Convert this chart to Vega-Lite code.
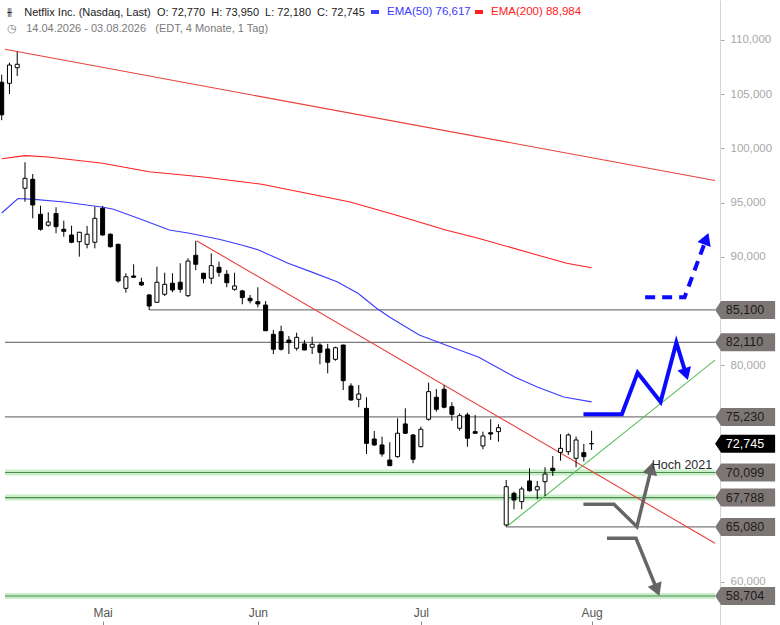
{
  "$schema": "https://vega.github.io/schema/vega-lite/v6.json",
  "width": 720,
  "height": 625,
  "autosize": {"type": "none"},
  "padding": {"left": 0, "top": 0, "right": 60, "bottom": 0},
  "title": {
    "text": "⫵\u00a0\u00a0\u00a0 Netflix Inc. (Nasdaq, Last)\u00a0 O: 72,770\u00a0 H: 73,950\u00a0 L: 72,180\u00a0 C: 72,745",
    "subtitle": "◷\u00a0\u00a0 14.04.2026 - 03.08.2026\u00a0\u00a0 (EDT, 4 Monate, 1 Tag)",
    "anchor": "start",
    "frame": "group",
    "orient": "top",
    "offset": -34,
    "dx": 7,
    "font": "Liberation Sans",
    "fontSize": 11,
    "fontWeight": "normal",
    "color": "#222222",
    "subtitleFont": "Liberation Sans",
    "subtitleFontSize": 11,
    "subtitleColor": "#7a7a7a",
    "subtitlePadding": 5
  },
  "datasets": {
    "candles": [
      {"i": 0, "o": 106.1, "h": 106.8, "l": 102.6, "c": 103.1},
      {"i": 1, "o": 106.0, "h": 107.91, "l": 105.02, "c": 107.69},
      {"i": 2, "o": 107.44, "h": 108.92, "l": 106.68, "c": 107.76},
      {"i": 3, "o": 96.32, "h": 98.72, "l": 95.08, "c": 97.24},
      {"i": 4, "o": 97.15, "h": 97.64, "l": 93.55, "c": 94.78},
      {"i": 5, "o": 93.92, "h": 94.71, "l": 92.41, "c": 92.54},
      {"i": 6, "o": 92.91, "h": 94.1, "l": 92.78, "c": 93.21},
      {"i": 7, "o": 93.99, "h": 94.57, "l": 92.17, "c": 92.78},
      {"i": 8, "o": 92.54, "h": 93.33, "l": 91.85, "c": 92.35},
      {"i": 9, "o": 92.01, "h": 92.87, "l": 91.25, "c": 91.34},
      {"i": 10, "o": 91.39, "h": 92.3, "l": 90.01, "c": 92.26},
      {"i": 11, "o": 91.15, "h": 92.84, "l": 90.78, "c": 92.08},
      {"i": 12, "o": 91.34, "h": 94.62, "l": 90.78, "c": 93.55},
      {"i": 13, "o": 94.47, "h": 94.69, "l": 91.95, "c": 92.01},
      {"i": 14, "o": 92.08, "h": 92.17, "l": 90.85, "c": 90.93},
      {"i": 15, "o": 91.15, "h": 91.2, "l": 87.61, "c": 87.77},
      {"i": 16, "o": 87.09, "h": 88.48, "l": 86.69, "c": 88.16},
      {"i": 17, "o": 88.23, "h": 89.31, "l": 88.08, "c": 88.11},
      {"i": 18, "o": 87.65, "h": 88.07, "l": 87.31, "c": 87.4},
      {"i": 19, "o": 86.48, "h": 86.52, "l": 85.1, "c": 85.46},
      {"i": 20, "o": 85.8, "h": 89.09, "l": 85.78, "c": 87.65},
      {"i": 21, "o": 86.54, "h": 88.53, "l": 86.38, "c": 87.46},
      {"i": 22, "o": 87.56, "h": 88.48, "l": 86.73, "c": 86.94},
      {"i": 23, "o": 87.65, "h": 89.4, "l": 86.69, "c": 87.0},
      {"i": 24, "o": 86.41, "h": 89.86, "l": 86.3, "c": 89.61},
      {"i": 25, "o": 90.14, "h": 91.46, "l": 88.76, "c": 89.31},
      {"i": 26, "o": 88.48, "h": 88.52, "l": 87.56, "c": 87.98},
      {"i": 27, "o": 88.02, "h": 90.32, "l": 87.49, "c": 89.18},
      {"i": 28, "o": 89.03, "h": 89.55, "l": 88.16, "c": 88.57},
      {"i": 29, "o": 88.39, "h": 88.78, "l": 87.19, "c": 87.61},
      {"i": 30, "o": 87.0, "h": 88.53, "l": 86.87, "c": 87.31},
      {"i": 31, "o": 86.85, "h": 86.95, "l": 85.62, "c": 86.23},
      {"i": 32, "o": 86.17, "h": 86.48, "l": 85.71, "c": 85.95},
      {"i": 33, "o": 85.86, "h": 87.19, "l": 85.34, "c": 85.65},
      {"i": 34, "o": 85.55, "h": 85.92, "l": 83.15, "c": 83.18},
      {"i": 35, "o": 82.85, "h": 83.25, "l": 81.03, "c": 81.47},
      {"i": 36, "o": 83.09, "h": 83.64, "l": 81.34, "c": 81.47},
      {"i": 37, "o": 82.32, "h": 82.69, "l": 81.03, "c": 82.08},
      {"i": 38, "o": 81.56, "h": 83.0, "l": 81.34, "c": 82.57},
      {"i": 39, "o": 81.96, "h": 82.32, "l": 81.38, "c": 81.4},
      {"i": 40, "o": 81.65, "h": 82.63, "l": 81.03, "c": 81.93},
      {"i": 41, "o": 81.86, "h": 82.02, "l": 80.08, "c": 81.19},
      {"i": 42, "o": 81.49, "h": 81.96, "l": 79.25, "c": 80.27},
      {"i": 43, "o": 80.54, "h": 81.71, "l": 80.41, "c": 81.61},
      {"i": 44, "o": 81.86, "h": 81.88, "l": 77.71, "c": 78.57},
      {"i": 45, "o": 78.08, "h": 78.33, "l": 76.73, "c": 76.79},
      {"i": 46, "o": 76.85, "h": 78.17, "l": 76.12, "c": 77.34},
      {"i": 47, "o": 76.02, "h": 77.04, "l": 71.81, "c": 72.79},
      {"i": 48, "o": 73.19, "h": 73.93, "l": 72.55, "c": 72.64},
      {"i": 49, "o": 72.64, "h": 73.41, "l": 71.56, "c": 71.81},
      {"i": 50, "o": 71.25, "h": 72.89, "l": 70.71, "c": 70.73},
      {"i": 51, "o": 71.56, "h": 75.1, "l": 71.47, "c": 73.72},
      {"i": 52, "o": 74.58, "h": 76.02, "l": 73.65, "c": 73.72},
      {"i": 53, "o": 73.56, "h": 73.65, "l": 70.95, "c": 71.32},
      {"i": 54, "o": 72.48, "h": 74.33, "l": 72.43, "c": 74.09},
      {"i": 55, "o": 75.01, "h": 78.39, "l": 74.88, "c": 77.56},
      {"i": 56, "o": 77.04, "h": 77.8, "l": 75.71, "c": 75.93},
      {"i": 57, "o": 77.78, "h": 78.17, "l": 76.02, "c": 76.12},
      {"i": 58, "o": 76.17, "h": 76.58, "l": 74.88, "c": 75.47},
      {"i": 59, "o": 74.18, "h": 75.56, "l": 73.96, "c": 75.34},
      {"i": 60, "o": 75.41, "h": 75.62, "l": 72.48, "c": 73.26},
      {"i": 61, "o": 73.87, "h": 75.41, "l": 73.7, "c": 73.72},
      {"i": 62, "o": 72.55, "h": 73.87, "l": 72.24, "c": 73.47},
      {"i": 63, "o": 73.77, "h": 75.01, "l": 73.1, "c": 73.65},
      {"i": 64, "o": 73.87, "h": 74.55, "l": 72.94, "c": 74.23},
      {"i": 65, "o": 65.26, "h": 69.41, "l": 65.08, "c": 68.79},
      {"i": 66, "o": 68.18, "h": 68.33, "l": 66.71, "c": 67.56},
      {"i": 67, "o": 67.41, "h": 68.79, "l": 66.71, "c": 68.58},
      {"i": 68, "o": 69.32, "h": 70.49, "l": 68.33, "c": 68.42},
      {"i": 69, "o": 68.49, "h": 69.32, "l": 67.63, "c": 68.79},
      {"i": 70, "o": 69.25, "h": 70.58, "l": 67.93, "c": 69.96},
      {"i": 71, "o": 70.49, "h": 71.62, "l": 69.78, "c": 70.27},
      {"i": 72, "o": 71.96, "h": 73.63, "l": 71.19, "c": 72.33},
      {"i": 73, "o": 72.02, "h": 73.72, "l": 71.72, "c": 73.56},
      {"i": 74, "o": 71.41, "h": 73.41, "l": 70.58, "c": 73.1},
      {"i": 75, "o": 71.93, "h": 72.73, "l": 71.1, "c": 71.56},
      {"i": 76, "o": 72.77, "h": 73.95, "l": 72.18, "c": 72.745}
    ],
    "ema": [
      {"s": "EMA(50)", "i": 0, "p": 94.04},
      {"s": "EMA(50)", "i": 2.1, "p": 95.38},
      {"s": "EMA(50)", "i": 4.2, "p": 95.3},
      {"s": "EMA(50)", "i": 8.05, "p": 95.06},
      {"s": "EMA(50)", "i": 13.1, "p": 94.57},
      {"s": "EMA(50)", "i": 14.4, "p": 94.38},
      {"s": "EMA(50)", "i": 18.2, "p": 93.39},
      {"s": "EMA(50)", "i": 21.6, "p": 92.47},
      {"s": "EMA(50)", "i": 24.2, "p": 92.17},
      {"s": "EMA(50)", "i": 28.0, "p": 91.61},
      {"s": "EMA(50)", "i": 30.9, "p": 91.09},
      {"s": "EMA(50)", "i": 33.1, "p": 90.63},
      {"s": "EMA(50)", "i": 36.9, "p": 89.4},
      {"s": "EMA(50)", "i": 39.8, "p": 88.63},
      {"s": "EMA(50)", "i": 43.2, "p": 87.7},
      {"s": "EMA(50)", "i": 45.9, "p": 86.63},
      {"s": "EMA(50)", "i": 48.3, "p": 85.25},
      {"s": "EMA(50)", "i": 50.0, "p": 84.42},
      {"s": "EMA(50)", "i": 53.8, "p": 82.79},
      {"s": "EMA(50)", "i": 57.2, "p": 81.86},
      {"s": "EMA(50)", "i": 61.4, "p": 80.76},
      {"s": "EMA(50)", "i": 66.1, "p": 78.91},
      {"s": "EMA(50)", "i": 69.0, "p": 77.99},
      {"s": "EMA(50)", "i": 72.4, "p": 77.07},
      {"s": "EMA(50)", "i": 76, "p": 76.617},
      {"s": "EMA(200)", "i": 0, "p": 99.05},
      {"s": "EMA(200)", "i": 3, "p": 99.33},
      {"s": "EMA(200)", "i": 6, "p": 99.21},
      {"s": "EMA(200)", "i": 13, "p": 98.63},
      {"s": "EMA(200)", "i": 19, "p": 97.85},
      {"s": "EMA(200)", "i": 26, "p": 97.36},
      {"s": "EMA(200)", "i": 33.5, "p": 96.69},
      {"s": "EMA(200)", "i": 38.5, "p": 95.98},
      {"s": "EMA(200)", "i": 44.9, "p": 95.06},
      {"s": "EMA(200)", "i": 51.2, "p": 93.76},
      {"s": "EMA(200)", "i": 57.2, "p": 92.47},
      {"s": "EMA(200)", "i": 61.4, "p": 91.71},
      {"s": "EMA(200)", "i": 69, "p": 90.17},
      {"s": "EMA(200)", "i": 72.8, "p": 89.4},
      {"s": "EMA(200)", "i": 76, "p": 88.984}
    ],
    "trends": [
      {"t": "down_long", "i": 0.425, "p": 109.14},
      {"t": "down_long", "i": 91.9, "p": 97.04},
      {"t": "down_short", "i": 25.16, "p": 91.46},
      {"t": "down_short", "i": 91.9, "p": 63.57},
      {"t": "up", "i": 65, "p": 65.08},
      {"t": "up", "i": 91.9, "p": 80.46}
    ],
    "levels": [
      {"p": 85.1, "i": 19, "k": "res"},
      {"p": 82.11, "i": 0.425, "k": "res"},
      {"p": 75.23, "i": 0.425, "k": "res"},
      {"p": 70.099, "i": 0.425, "k": "sup"},
      {"p": 67.788, "i": 0.425, "k": "sup"},
      {"p": 65.08, "i": 65, "k": "res"},
      {"p": 58.704, "i": 0.425, "k": "sup"},
      {"p": 72.745, "i": 76, "k": "last"}
    ],
    "arrows": [
      {"a": "bull", "n": 0, "i": 74.95, "p": 75.47},
      {"a": "bull", "n": 1, "i": 79.9, "p": 75.47},
      {"a": "bull", "n": 2, "i": 81.93, "p": 79.31},
      {"a": "bull", "n": 3, "i": 84.89, "p": 76.61},
      {"a": "bull", "n": 4, "i": 86.92, "p": 82.08},
      {"a": "bull", "n": 5, "i": 88.09, "p": 79.35, "head": true},
      {"a": "breakout", "n": 0, "i": 82.9, "p": 86.26},
      {"a": "breakout", "n": 1, "i": 87.98, "p": 86.26},
      {"a": "breakout", "n": 2, "i": 90.68, "p": 91.49, "head": true},
      {"a": "rebound", "n": 0, "i": 74.95, "p": 67.17},
      {"a": "rebound", "n": 1, "i": 78.88, "p": 67.17},
      {"a": "rebound", "n": 2, "i": 81.84, "p": 65.1},
      {"a": "rebound", "n": 3, "i": 83.63, "p": 70.3, "head": true},
      {"a": "bear", "n": 0, "i": 77.99, "p": 64.03},
      {"a": "bear", "n": 1, "i": 81.72, "p": 64.03},
      {"a": "bear", "n": 2, "i": 84.33, "p": 59.45, "head": true}
    ],
    "notes": [
      {"t": "Hoch 2021", "i": 83.75, "p": 70.42}
    ]
  },
  "encoding": {
    "x": {
      "field": "i",
      "type": "quantitative",
      "scale": {"domain": [0.425, 91.9], "nice": false, "zero": false},
      "axis": {
        "values": [13, 33, 54, 76],
        "labelExpr": "datum.value == 13 ? 'Mai' : datum.value == 33 ? 'Jun' : datum.value == 54 ? 'Jul' : 'Aug'",
        "title": null,
        "grid": false,
        "domain": false,
        "tickSize": -4,
        "tickColor": "#888888",
        "labelPadding": -14,
        "labelColor": "#555555",
        "labelFontSize": 12
      }
    }
  },
  "layer": [
    {
      "data": {"name": "levels"},
      "transform": [{"filter": "datum.k == 'sup'"}],
      "mark": {"type": "rule", "color": "#c8efc8", "strokeWidth": 6},
      "encoding": {
        "y": {
          "field": "p",
          "type": "quantitative",
          "scale": {"domain": [56.03, 113.69], "nice": false, "zero": false},
          "axis": {
            "orient": "right",
            "values": [60, 80, 90, 95, 100, 105, 110],
            "format": ".3f",
            "title": null,
            "grid": false,
            "domainColor": "#d4d4d4",
            "tickColor": "#aaaaaa",
            "tickSize": 4,
            "labelColor": "#a8a8a8",
            "labelFontSize": 11.5,
            "labelPadding": 6
          }
        },
        "x2": {"datum": 91.9}
      }
    },
    {
      "data": {"name": "levels"},
      "transform": [{"filter": "datum.k == 'sup'"}],
      "mark": {"type": "rule", "color": "#4f8a55", "strokeWidth": 1.2},
      "encoding": {
        "y": {"field": "p", "type": "quantitative"},
        "x2": {"datum": 91.9}
      }
    },
    {
      "data": {"name": "levels"},
      "transform": [{"filter": "datum.k == 'res'"}],
      "mark": {"type": "rule", "color": "#7a7a7a", "strokeWidth": 1.3},
      "encoding": {
        "y": {"field": "p", "type": "quantitative"},
        "x2": {"datum": 91.9}
      }
    },
    {
      "data": {"name": "ema"},
      "mark": {"type": "line", "strokeWidth": 1.1},
      "encoding": {
        "y": {"field": "p", "type": "quantitative"},
        "color": {
          "field": "s",
          "type": "nominal",
          "scale": {"domain": ["EMA(50)", "EMA(200)"], "range": ["#3b3bff", "#ff2020"]},
          "legend": {
            "orient": "none",
            "legendX": 369,
            "legendY": 6,
            "direction": "horizontal",
            "title": null,
            "symbolType": "stroke",
            "symbolSize": 64,
            "symbolStrokeWidth": 4,
            "labelFont": "Liberation Sans",
            "labelFontSize": 11.5,
            "labelOffset": 6,
            "columnPadding": -4,
            "gridAlign": "none",
            "padding": 0,
            "labelLimit": 0,
            "labelExpr": "datum.label == 'EMA(50)' ? 'EMA(50) 76,617' : 'EMA(200) 88,984'",
            "encode": {"labels": {"update": {"fill": {"scale": "color", "field": "value"}}}}
          }
        }
      }
    },
    {
      "data": {"name": "trends"},
      "transform": [{"filter": "datum.t != 'up'"}],
      "mark": {"type": "line", "color": "#e8413a", "strokeWidth": 1.1},
      "encoding": {
        "y": {"field": "p", "type": "quantitative"},
        "detail": {"field": "t"}
      }
    },
    {
      "data": {"name": "trends"},
      "transform": [{"filter": "datum.t == 'up'"}],
      "mark": {"type": "line", "color": "#5cbf5c", "strokeWidth": 1.1},
      "encoding": {
        "y": {"field": "p", "type": "quantitative"}
      }
    },
    {
      "data": {"name": "candles"},
      "mark": {"type": "rule", "color": "#000000", "strokeWidth": 1},
      "encoding": {
        "y": {"field": "l", "type": "quantitative"},
        "y2": {"field": "h"}
      }
    },
    {
      "data": {"name": "candles"},
      "mark": {"type": "bar", "stroke": "#000000", "strokeWidth": 1},
      "encoding": {
        "y": {"field": "o", "type": "quantitative"},
        "y2": {"field": "c"},
        "size": {"value": 4},
        "fill": {"condition": {"test": "datum.c < datum.o", "value": "#000000"}, "value": "#ffffff"}
      }
    },
    {
      "data": {"name": "arrows"},
      "transform": [{"filter": "datum.a == 'bull'"}],
      "mark": {"type": "line", "color": "#0a0aff", "strokeWidth": 4, "strokeJoin": "miter"},
      "encoding": {
        "y": {"field": "p", "type": "quantitative"},
        "order": {"field": "n"}
      }
    },
    {
      "data": {"name": "arrows"},
      "transform": [{"filter": "datum.a == 'breakout'"}],
      "mark": {"type": "line", "color": "#0a0aff", "strokeWidth": 4, "strokeDash": [10, 7]},
      "encoding": {
        "y": {"field": "p", "type": "quantitative"},
        "order": {"field": "n"}
      }
    },
    {
      "data": {"name": "arrows"},
      "transform": [{"filter": "datum.a == 'rebound' || datum.a == 'bear'"}],
      "mark": {"type": "line", "color": "#666666", "strokeWidth": 3.5, "strokeJoin": "miter"},
      "encoding": {
        "y": {"field": "p", "type": "quantitative"},
        "detail": {"field": "a"},
        "order": {"field": "n"}
      }
    },
    {
      "data": {"name": "arrows"},
      "transform": [{"filter": "datum.head && datum.a == 'bull'"}],
      "mark": {"type": "point", "shape": "triangle", "filled": true, "color": "#0a0aff", "opacity": 1, "size": 200, "angle": 162.6},
      "encoding": {"y": {"field": "p", "type": "quantitative"}}
    },
    {
      "data": {"name": "arrows"},
      "transform": [{"filter": "datum.head && datum.a == 'breakout'"}],
      "mark": {"type": "point", "shape": "triangle", "filled": true, "color": "#0a0aff", "opacity": 1, "size": 200, "angle": 20.6},
      "encoding": {"y": {"field": "p", "type": "quantitative"}}
    },
    {
      "data": {"name": "arrows"},
      "transform": [{"filter": "datum.head && datum.a == 'rebound'"}],
      "mark": {"type": "point", "shape": "triangle", "filled": true, "color": "#666666", "opacity": 1, "size": 225, "angle": 14.1},
      "encoding": {"y": {"field": "p", "type": "quantitative"}}
    },
    {
      "data": {"name": "arrows"},
      "transform": [{"filter": "datum.head && datum.a == 'bear'"}],
      "mark": {"type": "point", "shape": "triangle", "filled": true, "color": "#666666", "opacity": 1, "size": 225, "angle": 158.5},
      "encoding": {"y": {"field": "p", "type": "quantitative"}}
    },
    {
      "data": {"name": "notes"},
      "mark": {"type": "text", "align": "left", "baseline": "alphabetic", "fontSize": 12.5, "color": "#2a2a2a"},
      "encoding": {
        "y": {"field": "p", "type": "quantitative"},
        "text": {"field": "t"}
      }
    },
    {
      "data": {"name": "levels"},
      "mark": {"type": "point", "shape": "M-1,0L-0.8,-0.3L1,-0.3L1,0.3L-0.8,0.3Z", "size": 3600, "filled": true, "opacity": 1, "strokeWidth": 0},
      "encoding": {
        "x": {"datum": 95.78, "type": "quantitative"},
        "y": {"field": "p", "type": "quantitative"},
        "fill": {"condition": {"test": "datum.k == 'last'", "value": "#000000"}, "value": "#7c7775"}
      }
    },
    {
      "data": {"name": "levels"},
      "mark": {"type": "text", "align": "left", "baseline": "middle", "fontSize": 12.5},
      "encoding": {
        "x": {"datum": 93.3, "type": "quantitative"},
        "y": {"field": "p", "type": "quantitative"},
        "text": {"field": "p", "type": "quantitative", "format": ".3f"},
        "fill": {"condition": {"test": "datum.k == 'last'", "value": "#ffffff"}, "value": "#1c1c1c"}
      }
    }
  ],
  "config": {
    "view": {"stroke": null},
    "font": "Liberation Sans",
    "locale": {
      "number": {"decimal": ",", "thousands": ".", "grouping": [3], "currency": ["", " $"]}
    }
  }
}
